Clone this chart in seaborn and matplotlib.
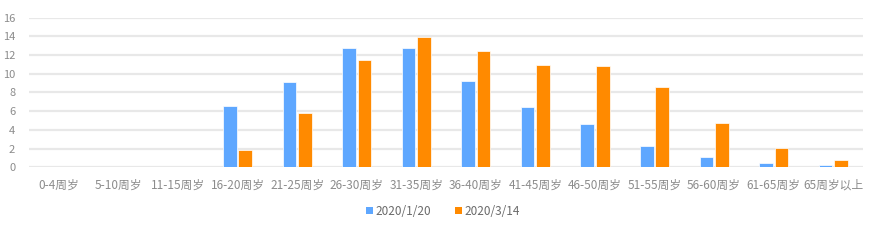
import matplotlib
matplotlib.use("Agg")
import matplotlib.pyplot as plt
import seaborn as sns
import pandas as pd
from matplotlib.patches import Patch

categories = ["0-4周岁", "5-10周岁", "11-15周岁", "16-20周岁", "21-25周岁", "26-30周岁",
              "31-35周岁", "36-40周岁", "41-45周岁", "46-50周岁", "51-55周岁", "56-60周岁",
              "61-65周岁", "65周岁以上"]
series_names = ["2020/1/20", "2020/3/14"]
values_jan = [0.0, 0.0, 0.05, 6.56, 9.12, 12.76, 12.72, 9.23, 6.42, 4.6, 2.28, 1.07, 0.43, 0.2]
values_mar = [0.0, 0.0, 0.05, 1.82, 5.81, 11.44, 13.9, 12.44, 10.97, 10.87, 8.56, 4.7, 2.1, 0.75]
y_ticks = [0, 2, 4, 6, 8, 10, 12, 14, 16]

colors = ["#5ea7ff", "#ff8a00"]

df = pd.DataFrame({
    "cat": categories * 2,
    "val": values_jan + values_mar,
    "series": [series_names[0]] * len(categories) + [series_names[1]] * len(categories),
})

sns.set_theme(style="white")
plt.rcParams['font.family'] = ['Noto Sans CJK SC', 'DejaVu Sans']

fig = plt.figure(figsize=(8.72, 2.45), dpi=100)
ax = fig.add_axes([0.0333, 0.317, 0.9564, 0.611])

sns.barplot(data=df, x="cat", y="val", hue="series", palette=colors, width=0.52, gap=0.12,
            edgecolor="white", linewidth=0.5, saturation=1, ax=ax, legend=False, zorder=3)

ax.set_xlim(-0.5, len(categories) - 0.5)
ax.set_ylim(0, 16)
ax.set_yticks(y_ticks)
ax.set_yticklabels([str(t) for t in y_ticks])
ax.set_xticks(range(len(categories)))
ax.set_xticklabels(categories)
ax.grid(axis="y", color="#e8e8e8", linewidth=1.6, zorder=0)
ax.set_axisbelow(True)
for s in ax.spines.values():
    s.set_visible(False)
ax.set_xlabel("")
ax.set_ylabel("")
ax.tick_params(axis="both", length=0, colors="#8c8c8c")
ax.tick_params(axis="x", pad=8, labelsize=8.5)
ax.tick_params(axis="y", pad=10, labelsize=8)

handles = [Patch(facecolor=c, edgecolor="none") for c in colors]
fig.legend(handles, series_names, loc="center", bbox_to_anchor=(0.508, 1 - 211 / 245),
           ncol=2, frameon=False, fontsize=8.5, labelcolor="#6a6a6a",
           handlelength=0.6, handleheight=0.6, handletextpad=0.2, columnspacing=2.0)

fig.savefig("out.png", dpi=100, facecolor="white")
